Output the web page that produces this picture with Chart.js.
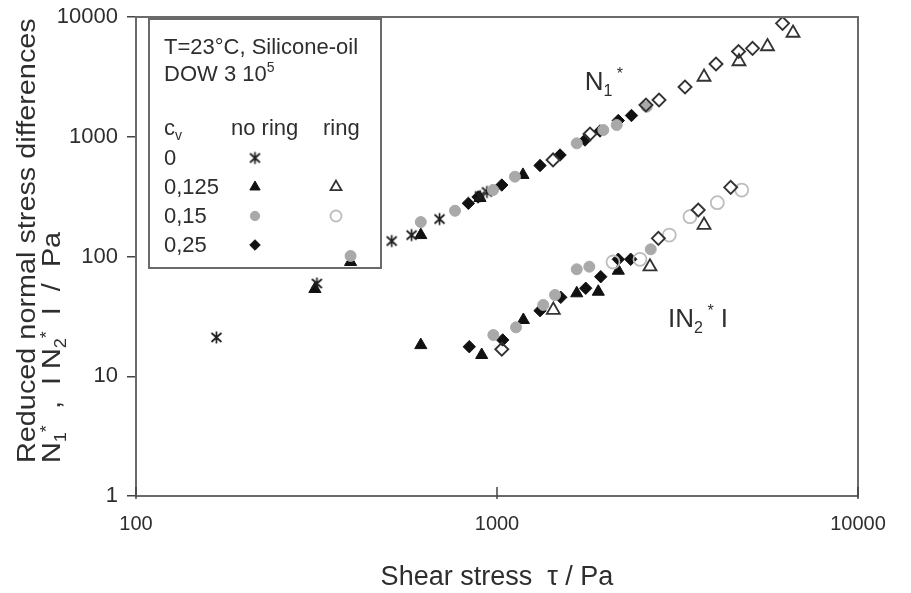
<!DOCTYPE html>
<html><head><meta charset="utf-8">
<script src="https://cdn.jsdelivr.net/npm/chart.js@4/dist/chart.umd.min.js"></script>
<style>html,body{margin:0;padding:0;background:#fff;}#wrap{width:911px;height:593px;position:relative;}</style>
</head><body><div id="wrap"><canvas id="c"></canvas></div>
<script>
// ---------- tick labels ----------
const xTicks = [100, 1000, 10000];
const yTicks = [1, 10, 100, 1000, 10000];

// ---------- data: shear stress tau (Pa) and reduced normal stress differences (Pa) ----------
// cv = 0, no ring (asterisk)
const tauN1_c0 = [167, 317, 511, 580, 693, 897, 938];
const n1_c0    = [21.1, 59.5, 134.7, 151, 205.6, 320, 346];
// cv = 0.125, no ring (filled triangle)
const tauN1_c125 = [313, 393, 615, 897, 1180];
const n1_c125    = [53.5, 90, 151, 308, 480];
const tauN2_c125 = [615, 907, 1183, 1663, 1908, 2168];
const n2_c125    = [18.2, 15.05, 29.5, 49.3, 50.8, 76.1];
// cv = 0.15, no ring (grey circle)
const tauN1_c15 = [393, 615, 765, 975, 1121, 1663, 1970, 2146, 2598];
const n1_c15    = [101, 194, 241, 359, 464, 881, 1138, 1253, 1783];
const tauN2_c15 = [977, 1129, 1343, 1448, 1663, 1802, 2666];
const n2_c15    = [22.1, 25.6, 39.4, 47.7, 78.2, 82.2, 114.8];
// cv = 0.25, no ring (filled diamond)
const tauN1_c25 = [833, 886, 1031, 1316, 1495, 1753, 1929, 2168, 2358];
const n1_c25    = [278, 314, 395, 575, 704, 939, 1117, 1367, 1505];
const tauN2_c25 = [838, 1037, 1316, 1502, 1761, 1938, 2168, 2346];
const n2_c25    = [17.65, 20.1, 35.3, 45.6, 54.3, 67.8, 94.8, 94.8];
// cv = 0.125, ring (open triangle)
const tauN1_r125 = [3745, 4681, 5614, 6607];
const n1_r125    = [3155, 4248, 5672, 7350];
const tauN2_r125 = [1432, 2653, 3745];
const n2_r125    = [35.7, 82.2, 183];
// cv = 0.15, ring (open circle)
const tauN2_r15 = [2096, 2489, 3001, 3424, 4077, 4763];
const n2_r15    = [90, 94.8, 151, 215, 281.6, 359];
// cv = 0.25, ring (open diamond)
const tauN1_r25 = [1430, 1810, 2586, 2811, 3318, 4043, 4667, 5103, 6180];
const n1_r25    = [640, 1054, 1842, 2028, 2603, 4051, 5150, 5477, 8855];
const tauN2_r25 = [1031, 2799, 3610, 4439];
const n2_r25    = [16.8, 141.9, 244.4, 378];

const FONT = '"Liberation Sans", Arial, Helvetica, sans-serif';
const TXT = '#2e2e2e';

// asterisk marker
function makeAsterisk(){
  const c = document.createElement('canvas'); c.width = 15; c.height = 15;
  const g = c.getContext('2d'); g.strokeStyle = '#1e1e1e'; g.lineWidth = 1.7;
  g.beginPath();
  g.moveTo(7.5,1.5); g.lineTo(7.5,13.5);
  g.moveTo(2.5,3); g.lineTo(12.5,12);
  g.moveTo(12.5,3); g.lineTo(2.5,12);
  g.stroke();
  return c;
}
const asterisk = makeAsterisk();

const pts = (xs, ys) => xs.map((x,i)=>({x:x, y:ys[i]}));

const styles = {
  c0:   {pointStyle: asterisk, radius: 7, bg:'#1e1e1e', bc:'#1e1e1e', bw:1},
  c125: {pointStyle:'triangle', radius:7, bg:'#111', bc:'#111', bw:1},
  c15:  {pointStyle:'circle', radius:5.5, bg:'#a9a9a9', bc:'#a9a9a9', bw:1},
  c25:  {pointStyle:'rectRot', radius:6.2, bg:'#111', bc:'#111', bw:1},
  r125: {pointStyle:'triangle', radius:7.5, bg:'rgba(255,255,255,0)', bc:'#333', bw:1.8},
  r15:  {pointStyle:'circle', radius:6.5, bg:'rgba(255,255,255,0)', bc:'#bdbdbd', bw:1.8},
  r25:  {pointStyle:'rectRot', radius:6.5, bg:'rgba(255,255,255,0)', bc:'#333', bw:1.9}
};
function ds(label, data, s){
  return {label, data, pointStyle:s.pointStyle, pointRadius:s.radius, pointHoverRadius:s.radius,
    backgroundColor:s.bg, borderColor:s.bc, pointBorderWidth:s.bw, borderWidth:s.bw, showLine:false};
}

const datasets = [
  ds('N1 ring 0.25', pts(tauN1_r25, n1_r25), styles.r25),
  ds('N2 ring 0.25', pts(tauN2_r25, n2_r25), styles.r25),
  ds('N2 ring 0.15', pts(tauN2_r15, n2_r15), styles.r15),
  ds('N1 ring 0.125', pts(tauN1_r125, n1_r125), styles.r125),
  ds('N2 ring 0.125', pts(tauN2_r125, n2_r125), styles.r125),
  ds('N1 0.15', pts(tauN1_c15, n1_c15), styles.c15),
  ds('N2 0.15', pts(tauN2_c15, n2_c15), styles.c15),
  ds('N1 0', pts(tauN1_c0, n1_c0), styles.c0),
  ds('N1 0.125', pts(tauN1_c125, n1_c125), styles.c125),
  ds('N2 0.125', pts(tauN2_c125, n2_c125), styles.c125),
  ds('N1 0.25', pts(tauN1_c25, n1_c25), styles.c25),
  ds('N2 0.25', pts(tauN2_c25, n2_c25), styles.c25)
];

// rich text with sub/superscripts
function rich(ctx, parts, x, y, base, supOff){
  let cx = x;
  const so = supOff === undefined ? 0.42 : supOff;
  parts.forEach(([t,k])=>{
    const size = k==='n' ? base : Math.round(base*0.62);
    ctx.font = size + 'px ' + FONT;
    const dy = k==='sub' ? base*0.22 : (k==='sup' ? -base*so : 0);
    ctx.fillText(t, cx, y+dy);
    cx += ctx.measureText(t).width;
  });
  return cx - x;
}

const legendRows = [
  {label:'0', noring: styles.c0, ring: null},
  {label:'0,125', noring: styles.c125, ring: styles.r125},
  {label:'0,15', noring: styles.c15, ring: styles.r15},
  {label:'0,25', noring: styles.c25, ring: null}
];

const deco = {
  id:'deco',
  beforeDatasetsDraw(chart){
    const {ctx, chartArea:a} = chart;
    ctx.save();
    // legend box
    const bx = a.left + 13, by = a.top + 2, bw = 232, bh = 249;
    ctx.fillStyle = '#fff'; ctx.fillRect(bx, by, bw, bh);
    ctx.strokeStyle = '#6a6a6a'; ctx.lineWidth = 2; ctx.strokeRect(bx, by, bw, bh);
    ctx.fillStyle = TXT; ctx.textBaseline = 'alphabetic'; ctx.textAlign = 'left';
    const tx = bx + 15;
    rich(ctx, [['T=23°C, Silicone-oil','n']], tx, by + 35, 22);
    rich(ctx, [['DOW 3 10','n'],['5','sup']], tx, by + 62, 22);
    rich(ctx, [['c','n'],['v','sub']], tx, by + 116, 22);
    rich(ctx, [['no ring','n']], bx + 82, by + 116, 22);
    rich(ctx, [['ring','n']], bx + 174, by + 116, 22);
    legendRows.forEach((r,i)=>{
      const yy = by + 146 + i*29;
      ctx.fillStyle = TXT;
      rich(ctx, [[r.label,'n']], tx, yy, 22);
      const cy = yy - 7;
      [[r.noring, bx+106],[r.ring, bx+187]].forEach(([s,px])=>{
        if(!s) return;
        ctx.fillStyle = s.bg; ctx.strokeStyle = s.bc; ctx.lineWidth = s.bw;
        Chart.helpers.drawPoint(ctx, {pointStyle:s.pointStyle, radius:s.radius*0.85, borderWidth:s.bw, rotation:0}, px, cy);
      });
    });
    ctx.restore();
  },
  afterDraw(chart){
    const {ctx, chartArea:a, scales} = chart;
    ctx.save();
    ctx.strokeStyle = '#6a6a6a'; ctx.lineWidth = 2;
    ctx.strokeRect(a.left, a.top, a.right-a.left, a.bottom-a.top);
    ctx.strokeStyle = '#444'; ctx.lineWidth = 1.5;
    xTicks.forEach(v=>{
      const px = scales.x.getPixelForValue(v);
      ctx.beginPath(); ctx.moveTo(px, a.bottom+3); ctx.lineTo(px, a.bottom-9); ctx.stroke();
    });
    // annotations
    ctx.fillStyle = TXT; ctx.textBaseline = 'alphabetic'; ctx.textAlign = 'left';
    const n1x = scales.x.getPixelForValue(1750), n1y = scales.y.getPixelForValue(2450);
    rich(ctx, [['N','n'],['1','sub'],[' *','sup']], n1x, n1y, 26);
    const n2x = scales.x.getPixelForValue(2977), n2y = scales.y.getPixelForValue(25.8);
    rich(ctx, [['IN','n'],['2','sub'],[' *','sup'],[' I','n']], n2x, n2y, 26);
    // x title
    ctx.textAlign = 'center';
    ctx.font = '27px ' + FONT;
    ctx.fillText('Shear stress  \u03c4 / Pa', (a.left+a.right)/2, 585);
    // y title (two lines, rotated)
    ctx.textAlign = 'left';
    ctx.save();
    ctx.translate(35, 463); ctx.rotate(-Math.PI/2); ctx.scale(1.13, 1);
    rich(ctx, [['Reduced normal stress differences','n']], 0, 0, 25.5);
    ctx.restore();
    ctx.save();
    ctx.translate(60, 463); ctx.rotate(-Math.PI/2); ctx.scale(1.13, 1);
    rich(ctx, [['N','n'],['1','sub'],['*','sup'],['  ,  I N','n'],['2','sub'],['*','sup'],['  I  /  Pa','n']], 0, 0, 25.5, 0.3);
    ctx.restore();
    ctx.restore();
  }
};

new Chart(document.getElementById('c'), {
  type:'scatter',
  data:{datasets},
  options:{
    responsive:true, maintainAspectRatio:false, animation:false, devicePixelRatio:1,
    layout:{padding:{left:0, right:53, top:17, bottom:0}},
    plugins:{legend:{display:false}, tooltip:{enabled:false}},
    scales:{
      x:{type:'logarithmic', min:100, max:10000,
        afterBuildTicks:s=>{s.ticks = xTicks.map(v=>({value:v}));},
        afterFit:s=>{s.height = 97; s.paddingLeft = 0; s.paddingRight = 0;},
        ticks:{callback:v=>String(v), color:TXT, font:{family:FONT, size:20}, padding:16, maxRotation:0, autoSkip:false},
        grid:{drawOnChartArea:false, drawTicks:false},
        border:{display:false}
      },
      y:{type:'logarithmic', min:1, max:10000,
        afterBuildTicks:s=>{s.ticks = yTicks.map(v=>({value:v}));},
        afterFit:s=>{s.width = 136; s.paddingTop = 0; s.paddingBottom = 0;},
        ticks:{callback:v=>String(v), color:TXT, font:{family:FONT, size:22}, padding:9, autoSkip:false},
        grid:{drawOnChartArea:false, drawTicks:true, tickLength:9, color:'#444', lineWidth:1.5},
        border:{display:false}
      }
    }
  },
  plugins:[deco]
});
</script></body></html>
